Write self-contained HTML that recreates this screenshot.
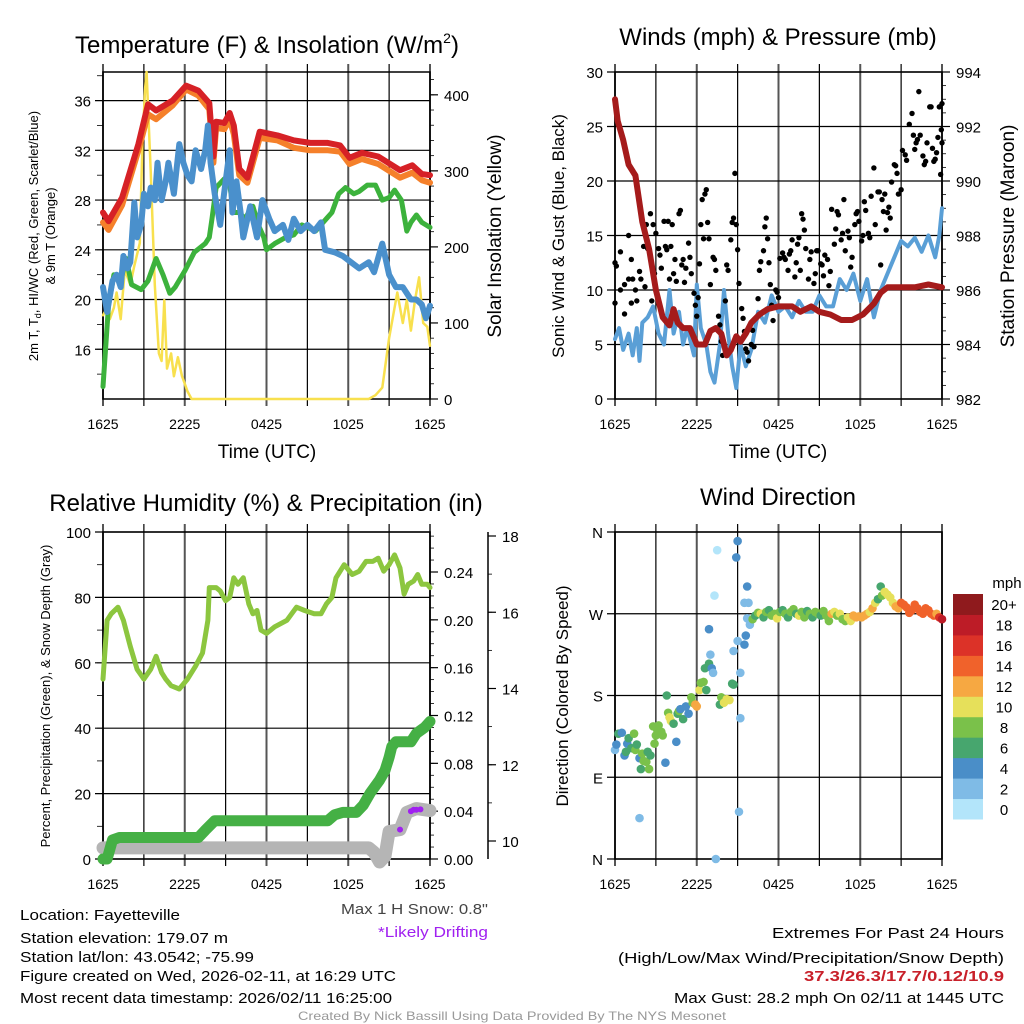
<!DOCTYPE html>
<html><head><meta charset="utf-8"><style>
html,body{margin:0;padding:0;background:#fff;}
svg{display:block;font-family:"Liberation Sans",sans-serif;}
</style></head><body>
<svg id="fig" width="1024" height="1024" viewBox="0 0 1024 1024" xmlns="http://www.w3.org/2000/svg">
<g id="titles">
<text x="267" y="53" font-size="24" text-anchor="middle">Temperature (F) &amp; Insolation (W/m<tspan font-size="14" dy="-10">2</tspan><tspan dy="10">)</tspan></text>
<text x="778" y="45" font-size="24" text-anchor="middle">Winds (mph) &amp; Pressure (mb)</text>
<text x="266" y="511" font-size="24" text-anchor="middle">Relative Humidity (%) &amp; Precipitation (in)</text>
<text x="778" y="505" font-size="24" text-anchor="middle">Wind Direction</text>
<text x="267" y="458" font-size="19" text-anchor="middle">Time (UTC)</text>
<text x="778" y="458" font-size="19" text-anchor="middle">Time (UTC)</text>
<text transform="translate(38,236) rotate(-90)" font-size="13" text-anchor="middle">2m T, T<tspan font-size="9" dy="3">d</tspan><tspan dy="-3">, HI/WC (Red, Green, Scarlet/Blue)</tspan></text>
<text transform="translate(55,236) rotate(-90)" font-size="13" text-anchor="middle">&amp; 9m T (Orange)</text>
<text transform="translate(501,236) rotate(-90)" font-size="19" text-anchor="middle">Solar Insolation (Yellow)</text>
<text transform="translate(564,236) rotate(-90)" font-size="17" text-anchor="middle">Sonic Wind &amp; Gust (Blue, Black)</text>
<text transform="translate(1014,236) rotate(-90)" font-size="19" text-anchor="middle">Station Pressure (Maroon)</text>
<text transform="translate(50,696) rotate(-90)" font-size="13" text-anchor="middle">Percent, Precipitation (Green), &amp; Snow Depth (Gray)</text>
<text transform="translate(568,696) rotate(-90)" font-size="17" text-anchor="middle">Direction (Colored By Speed)</text>
</g>
<g id="plots"></g>
<g id="footer" font-family="'Liberation Sans Narrow','Liberation Sans',sans-serif" font-size="15">
<text x="20" y="920" textLength="160" lengthAdjust="spacingAndGlyphs">Location: Fayetteville</text>
<text x="20" y="943" textLength="208" lengthAdjust="spacingAndGlyphs">Station elevation: 179.07 m</text>
<text x="20" y="962" textLength="234" lengthAdjust="spacingAndGlyphs">Station lat/lon: 43.0542; -75.99</text>
<text x="20" y="981" textLength="376" lengthAdjust="spacingAndGlyphs">Figure created on Wed, 2026-02-11, at 16:29 UTC</text>
<text x="20" y="1003" textLength="372" lengthAdjust="spacingAndGlyphs">Most recent data timestamp: 2026/02/11 16:25:00</text>
<text x="488" y="914" text-anchor="end" fill="#444" textLength="147" lengthAdjust="spacingAndGlyphs">Max 1 H Snow: 0.8"</text>
<text x="488" y="937" text-anchor="end" fill="#a020f0" textLength="110" lengthAdjust="spacingAndGlyphs">*Likely Drifting</text>
<text x="1004" y="938" text-anchor="end" textLength="232" lengthAdjust="spacingAndGlyphs">Extremes For Past 24 Hours</text>
<text x="1004" y="963" text-anchor="end" textLength="386" lengthAdjust="spacingAndGlyphs">(High/Low/Max Wind/Precipitation/Snow Depth)</text>
<text x="1004" y="981" text-anchor="end" fill="#c8202a" font-weight="bold" textLength="200" lengthAdjust="spacingAndGlyphs">37.3/26.3/17.7/0.12/10.9</text>
<text x="1004" y="1003" text-anchor="end" textLength="330" lengthAdjust="spacingAndGlyphs">Max Gust: 28.2 mph On 02/11 at 1445 UTC</text>
<text x="512" y="1020" text-anchor="middle" fill="#999" font-size="12" textLength="428" lengthAdjust="spacingAndGlyphs">Created By Nick Bassill Using Data Provided By The NYS Mesonet</text>
</g>
</svg>
<script>
// ---- data (hours since 1625 UTC) ----
const timeTickLabels = ["1625","2225","0425","1025","1625"];
const tempTicks = [16,20,24,28,32,36];
const solarTicks = [0,100,200,300,400];
const windTicks = [0,5,10,15,20,25,30];
const presTicks = [982,984,986,988,990,992,994];
const rhTicks = [0,20,40,60,80,100];
const precipTicks = ["0.00","0.04","0.08","0.12","0.16","0.20","0.24"];
const snowTicks = [10,12,14,16,18];
const dirLabels = ["N","E","S","W","N"];
const speedLabels = ["0","2","4","6","8","10","12","14","16","18","20+"];

const redT = [[0,27],[0.4,26.3],[1.4,28.2],[2.6,32.5],[3.3,35.7],[3.9,35.2],[5.1,36],[6.1,37.2],[7,36.8],[7.8,35.8],[8.1,31.5],[8.3,34.3],[8.9,34.2],[9.3,35],[9.6,34],[10,30.5],[10.6,29.8],[11.5,33.5],[12.8,33.2],[14,32.8],[15.2,32.6],[16.5,32.6],[17.4,32.4],[18.1,31.4],[19,31.8],[20.2,31.5],[21.8,30.4],[22.7,30.8],[23.4,30.1],[24,30]];
const orangeT = [[0,26.2],[0.4,25.6],[1.4,27.6],[2.6,32],[3.3,34.9],[3.9,34.5],[5.1,35.6],[6.1,36.9],[7,36.4],[7.8,35.3],[8.1,31],[8.3,33.8],[8.9,33.7],[9.3,34.5],[9.6,33.3],[10,30],[10.6,29.4],[11.5,33],[12.8,32.8],[14,32.2],[15.2,32],[16.5,32],[17.4,31.9],[18.1,30.9],[19,31.3],[20.2,30.9],[21.8,29.8],[22.7,30.2],[23.4,29.6],[24,29.4]];
const blueT = [[0,21],[0.3,19],[0.7,21.5],[1,22],[1.3,21],[1.5,23.5],[1.8,22.5],[2,23],[2.3,27.8],[2.5,25],[2.8,26],[3,28.5],[3.3,27.5],[3.5,29],[3.8,28],[4,31],[4.3,28],[4.6,29.5],[4.8,31],[5.2,28.5],[5.6,32.5],[5.9,31],[6.2,30],[6.5,29.5],[6.8,32],[7.2,30.5],[7.5,32],[7.7,34],[7.9,31],[8.2,28.5],[8.6,26],[9,29.5],[9.3,32],[9.5,27],[9.8,29.5],[10.1,27],[10.3,25],[10.8,27.5],[11.3,25],[11.7,28],[12.2,26.5],[12.6,25.5],[13.2,26],[13.6,24.8],[14,26.5],[14.5,25.5],[15,26],[15.5,25.5],[16,26.2],[16.3,24],[17,23.8],[17.6,23.5],[18.2,23],[18.8,22.5],[19.5,23],[19.9,22.2],[20.5,24.5],[21,22],[21.5,21],[22,21],[22.6,20],[23,20],[23.4,19.6],[23.7,18.5],[24,19.5]];
const greenT = [[0,13],[0.4,19.5],[0.8,22],[1.3,21.5],[1.7,23.3],[2.1,21.2],[2.8,20.8],[3.3,21.5],[3.9,23.3],[4.4,22],[4.9,20.5],[5.3,21],[6,22.3],[6.7,23.8],[7.5,24.5],[7.8,25],[8,26.5],[8.3,29],[8.9,29.7],[9.3,29.2],[9.6,27],[10,27],[10.4,26.5],[11,27.5],[11.4,26],[11.8,25],[12,24],[12.6,24.5],[13.4,25],[14,25.2],[14.6,26],[15.6,25.5],[16.4,26.5],[16.8,27],[17.3,28.5],[17.8,29],[18.4,28.5],[18.8,28.7],[19.4,29.2],[20,29.2],[20.5,28],[21,28.2],[21.4,28.8],[21.9,28],[22.3,25.5],[22.6,26.2],[23,26.8],[23.4,26.2],[24,25.8]];
const solar = [[0,110],[0.3,120],[0.5,105],[0.8,120],[1,140],[1.3,105],[1.6,170],[2,150],[2.3,175],[2.7,205],[2.9,340],[3.1,410],[3.2,430],[3.5,300],[3.8,150],[4.1,60],[4.3,50],[4.5,130],[4.7,40],[5,60],[5.2,30],[5.5,55],[5.8,30],[6,20],[6.2,10],[6.5,0],[12,0],[19.5,0],[20,5],[20.5,15],[21,80],[21.3,110],[21.6,140],[22,100],[22.3,130],[22.6,90],[22.9,130],[23.2,160],[23.5,100],[23.8,95],[24,70]];

const pressure = [[0,993],[0.2,992.2],[0.6,991.5],[1,990.6],[1.5,990.2],[2,988.5],[2.5,987.5],[3,986],[3.5,985],[4,984.7],[4.3,985.3],[4.6,984.8],[5,984.6],[5.5,984.6],[6,984],[6.6,984],[7,984.5],[7.4,984.6],[7.8,984.4],[8.2,983.6],[8.5,983.8],[8.9,984.3],[9.2,984.1],[9.6,984.4],[10,984.8],[10.6,985.1],[11.2,985.3],[12,985.4],[13,985.4],[13.6,985.2],[14.4,985.4],[15,985.2],[15.8,985.1],[16.6,984.9],[17.4,984.9],[18.2,985.1],[19,985.5],[19.5,985.9],[20,986.1],[21,986.1],[22,986.1],[23,986.2],[24,986.1]];
const windSpd = [[0,5.5],[0.3,6.5],[0.6,4.5],[1,6],[1.3,4],[1.6,6.5],[1.8,3.5],[2,7],[2.4,7.5],[2.8,8.5],[3.2,6],[3.6,5],[4,10],[4.3,6],[4.7,8],[5,5],[5.3,6.5],[5.8,4],[6,10.5],[6.3,6.5],[6.7,5],[7,2.5],[7.3,1.5],[7.7,5],[8,10],[8.3,6],[8.6,3],[8.9,1],[9.2,5],[9.6,3],[10,4.5],[10.5,8],[11,7],[11.5,9.5],[12,8],[12.5,8.5],[13,7.5],[13.5,9],[14,8],[14.5,8],[15,9.5],[15.5,8.5],[16,8.5],[16.5,11],[17,10],[17.5,11.5],[18,9],[18.5,11],[19,7.5],[19.5,10],[20,11.5],[20.5,13],[21,14.5],[21.5,14],[22,14.8],[22.5,13.5],[23,15],[23.5,13],[23.8,15],[24,17.5]];
const gusts = [[0,8.8],[0,12.5],[0.1,12.2],[0.4,10],[0.4,13.5],[0.7,10.5],[0.7,7.8],[1,11],[1,15],[1.2,12.8],[1.2,8.8],[1.3,11],[1.5,10],[1.6,9],[1.8,11.7],[1.9,11],[2.1,14],[2.2,10.3],[2.3,16],[2.4,13.8],[2.6,17],[2.7,9],[2.8,16],[2.9,11.5],[3,15.2],[3.2,13.8],[3.3,13.2],[3.4,12],[3.6,16.3],[3.7,14],[3.8,13.7],[3.9,16.3],[4,11],[4.1,14],[4.2,16],[4.3,11.5],[4.4,12.8],[4.5,10.8],[4.7,17],[4.8,17.3],[4.9,12.3],[5,12.8],[5.1,10.7],[5.2,12],[5.4,14.3],[5.5,13],[5.6,11.5],[5.8,9.7],[5.9,8.6],[6,7.6],[6.1,9.3],[6.2,12.4],[6.3,16],[6.4,18.3],[6.5,14.7],[6.6,18.8],[6.7,19.2],[6.8,16.2],[6.9,14.7],[7,10.5],[7.2,13],[7.3,12.8],[7.4,11.8],[7.6,7.6],[7.7,6.8],[7.8,5.3],[7.9,4],[8.1,9],[8.2,12.3],[8.3,11.8],[8.5,14.6],[8.6,16.2],[8.7,16.6],[8.8,20.7],[8.9,16],[9,13.7],[9.1,10.6],[9.3,8.3],[9.4,7.4],[9.5,6.2],[9.6,4.6],[9.7,4.3],[9.8,3.5],[10,5],[10.1,6.3],[10.2,4.8],[10.5,9.2],[10.6,11.8],[10.7,12.6],[10.9,13.6],[11,15.8],[11.1,16.6],[11.2,14.7],[11.3,12.5],[11.4,10.5],[11.5,8.6],[11.6,7.2],[11.8,10],[11.9,9.8],[12,9.3],[12.1,12.9],[12.3,13.4],[12.4,13],[12.5,12.8],[12.7,11.8],[12.8,13.3],[12.9,13.6],[13,14.6],[13.2,11.2],[13.3,12.5],[13.4,14.2],[13.5,14.8],[13.6,11.8],[13.7,17],[13.8,16.5],[13.9,15.5],[14,13.8],[14.2,11],[14.3,12.8],[14.4,13.5],[14.6,10.6],[14.7,11.5],[14.8,13.6],[14.9,13.6],[15.1,12.4],[15.2,12.3],[15.3,11.3],[15.4,13.2],[15.6,12.8],[15.7,10.4],[15.8,11.7],[15.9,17.4],[16.1,14.2],[16.2,15.6],[16.3,17.2],[16.4,16.9],[16.6,14.6],[16.7,15.2],[16.8,18.3],[16.9,13.6],[17.1,15.4],[17.2,14.8],[17.3,12.1],[17.4,13],[17.6,16],[17.7,17],[17.8,17.2],[17.9,16.3],[18.1,14.5],[18.2,15],[18.3,18.1],[18.4,17.3],[18.6,15.2],[18.7,14.8],[18.8,18.6],[19,21.2],[19.1,16],[19.3,19],[19.4,19],[19.5,12.3],[19.6,18.3],[19.7,17.2],[19.8,18.8],[19.9,15.5],[20,17.1],[20.1,17.6],[20.2,16.6],[20.3,19.9],[20.5,21.5],[20.6,21.4],[20.7,20.7],[20.8,18.8],[21,19.2],[21.1,22.8],[21.3,22.4],[21.4,21.9],[21.6,25.2],[21.8,26.2],[21.9,24.2],[22,22.9],[22.1,23.5],[22.2,23.8],[22.3,28.2],[22.4,24.2],[22.6,22.3],[22.7,21.5],[22.8,21.8],[22.9,23.5],[23.1,26.8],[23.2,26.8],[23.3,23],[23.4,21.8],[23.5,22],[23.6,22.6],[23.7,24],[23.8,26.8],[23.9,20.6],[24,27.1],[24,23.5],[23.95,24.7]];

const rh = [[0,55],[0.3,73],[0.6,75],[1.1,77],[1.5,73],[2,65],[2.5,58],[3,55],[3.5,58],[3.9,62],[4.3,57],[4.6,55],[5,53],[5.6,52],[6.2,55],[6.8,59],[7.3,63],[7.7,73],[7.8,83],[8.3,83],[8.6,82],[9,79],[9.3,80],[9.6,86],[9.9,84],[10.3,86],[10.7,78],[11,75],[11.3,76],[11.6,70],[12,69],[12.6,71],[13.5,73],[14.2,77],[14.8,76],[15.5,75],[16,75],[16.4,78],[16.8,80],[17.1,86],[17.7,90],[18.3,87],[18.8,88],[19.3,91],[19.8,91],[20.2,92],[20.6,88],[21,90],[21.4,93],[21.8,89],[22.1,81],[22.4,84],[22.8,85],[23.1,87],[23.4,84],[23.8,84],[24,83]];
const precip = [[0,0],[0.3,0],[0.7,0.016],[1.2,0.018],[7,0.018],[7.5,0.024],[8.2,0.032],[16.5,0.032],[17,0.037],[17.6,0.039],[18.6,0.039],[19.1,0.045],[19.6,0.055],[20.3,0.066],[20.7,0.074],[21,0.085],[21.2,0.094],[21.5,0.098],[22.6,0.098],[23,0.105],[23.6,0.11],[24,0.115]];
const snow = [[0,9.82],[19.5,9.82],[19.9,9.7],[20.3,9.45],[20.7,9.6],[21,10.25],[21.8,10.3],[22.3,10.75],[23,10.85],[24,10.8]];
const drift = [[21.8,10.3],[22.6,10.78],[22.8,10.82],[23.0,10.82],[23.3,10.83]];

// [hour, direction deg, speed mph]
const windDir = [[0,120,2],[0.1,126,4],[0.25,138,6],[0.5,139,4],[0.7,114,4],[0.8,118,6],[0.9,127,4],[1.0,133,6],[1.2,122,6],[1.4,138,8],[1.5,120,8],[1.6,126,6],[1.8,111,4],[1.9,99,6],[1.8,45,2],[2.0,116,8],[2.1,108,8],[2.3,107,8],[2.4,118,6],[2.5,99,8],[2.6,114,6],[2.8,146,8],[2.9,127,8],[3.0,136,8],[3.1,142,8],[3.2,147,8],[3.4,140,8],[3.5,136,8],[3.7,106,4],[3.8,180,6],[3.9,161,8],[4.0,156,10],[4.1,152,10],[4.3,149,6],[4.5,129,4],[4.6,160,6],[4.7,163,8],[4.8,165,4],[5.0,154,6],[5.2,168,4],[5.4,160,4],[5.6,178,8],[5.7,172,8],[5.9,170,12],[6.0,168,12],[6.2,186,10],[6.3,194,8],[6.5,195,8],[6.6,210,6],[6.7,186,6],[6.9,215,6],[7.0,225,2],[6.9,253,4],[7.1,210,4],[7.2,205,2],[7.3,290,0],[7.5,340,0],[7.4,0,2],[7.7,170,6],[7.8,178,8],[8.0,172,10],[8.2,176,10],[8.4,175,10],[8.6,193,6],[8.7,192,6],[8.7,229,2],[8.9,332,4],[9.0,350,4],[9.0,240,2],[9.1,52,2],[9.2,155,2],[9.2,205,2],[9.5,236,4],[9.6,246,4],[9.5,282,2],[9.7,300,4],[9.8,282,2],[9.7,265,2],[9.9,258,2],[10.1,264,8],[10.3,268,6],[10.5,271,8],[10.7,270,10],[10.9,266,6],[11.1,272,8],[11.3,274,6],[11.5,268,8],[11.7,270,8],[11.9,265,10],[12.1,272,8],[12.3,274,6],[12.5,270,8],[12.7,266,6],[12.9,272,8],[13.1,275,8],[13.3,270,6],[13.5,268,10],[13.7,272,8],[13.9,266,8],[14.1,273,6],[14.3,270,8],[14.5,266,6],[14.7,272,8],[14.9,270,8],[15.1,268,6],[15.3,273,8],[15.5,268,8],[15.7,262,8],[15.9,270,12],[16.1,272,10],[16.3,268,8],[16.5,270,10],[16.7,264,8],[16.9,262,8],[17.1,266,10],[17.3,262,10],[17.5,268,12],[17.7,266,12],[17.9,267,12],[18.1,266,12],[18.3,268,12],[18.5,270,12],[18.7,272,10],[18.9,276,12],[19.1,282,10],[19.3,286,6],[19.5,300,6],[19.6,290,8],[19.8,294,10],[20.0,291,10],[20.2,288,10],[20.4,282,10],[20.6,278,12],[20.8,276,12],[21.0,282,14],[21.2,280,14],[21.4,277,14],[21.6,271,14],[21.8,274,14],[22.0,280,14],[22.2,276,14],[22.4,272,14],[22.6,270,14],[22.8,276,14],[23.0,274,14],[23.2,270,14],[23.4,268,14],[23.6,270,12],[23.8,266,16],[24,264,18]];

const speedColors = ["#b3e5fa","#7fbbe6","#4a8ec8","#47a66e","#7ac14a","#e6e05a","#f6a842","#f0622b","#dc3228","#bd1c27","#8f1a1d"];

// ---- drawing ----
const NS = "http://www.w3.org/2000/svg";
const root = document.getElementById('plots');
function mk(tag, attrs, parent){ const e=document.createElementNS(NS,tag); for(const k in attrs) e.setAttribute(k,attrs[k]); (parent||root).appendChild(e); return e; }
function scale(d0,d1,r0,r1){ return v => r0 + (v-d0)*(r1-r0)/(d1-d0); }
function pathFrom(arr, fx, fy){ return arr.map((p,i)=>(i?'L':'M')+fx(p[0]).toFixed(1)+' '+fy(p[1]).toFixed(1)).join(''); }

function frame(g, x0, x1, y0, y1, hTicks, fy, leftLabels){
  for(let i=0;i<=8;i++){
    const x = x0 + i*(x1-x0)/8;
    const l = mk('line',{x1:x,x2:x,y1:y0-8,y2:y1+7,stroke: (i%2? '#000':'#555'),'stroke-width': (i%2?1.2:2)},g);
    
    
  }
  hTicks.forEach((v,i)=>{
    const y = fy(v);
    const l = mk('line',{x1:x0-8,x2:x1,y1:y,y2:y,stroke:'#000','stroke-width':1.2},g);
    
    
    const t = mk('text',{x:x0-12,y:y+6,'font-size':15,'text-anchor':'end'},g);
    t.textContent = leftLabels ? leftLabels[i] : v;
    
    
  });
  const b = mk('rect',{x:x0,y:y0,width:x1-x0,height:y1-y0,fill:'none',stroke:'#000','stroke-width':1.5},g);
  
  
  timeTickLabels.forEach((s,i)=>{
    const t = mk('text',{x:x0+i*(x1-x0)/4,y:y1+30,'font-size':14,'text-anchor':'middle'},g);
    t.textContent = s;
    
    
  });
}
function rightAxis(g, x, ticks, fy, labels, minorStep, d0, d1, lx){
  ticks.forEach((v,i)=>{
    const y = fy(v);
    mk('line',{x1:x,x2:x+8,y1:y,y2:y,stroke:'#000','stroke-width':1.2},g);
    const t = mk('text',{x:lx||x+14,y:y+6,'font-size':15},g);
    t.textContent = labels? labels[i] : v;
    
    
  });
  for(let v=d0; v<=d1+1e-9; v+=minorStep){
    const y=fy(v); mk('line',{x1:x,x2:x+4,y1:y,y2:y,stroke:'#000','stroke-width':0.8},g);
  }
}
function line(g, arr, fx, fy, color, w, name){
  const p = mk('path',{d:pathFrom(arr,fx,fy),fill:'none',stroke:color,'stroke-width':w,'stroke-linejoin':'round','stroke-linecap':'round'},g);
  
  
}

(function(){
  const g = mk('g',{});  
  const fx = scale(0,24,103,430), fy = scale(12,38.3,399,72), fs = scale(0,430,399,72);
  frame(g,103,430,72,399,tempTicks,fy);
  for(let v=14; v<=38; v+=2){ const y=fy(v); mk('line',{x1:97,x2:103,y1:y,y2:y,stroke:'#000','stroke-width':0.8},g); }
  rightAxis(g,430,solarTicks,fs,null,20,0,420);
  line(g,solar,fx,fs,'#f8e04e',2.5,'solar-insolation-line');
  line(g,greenT,fx,fy,'#3cb23c',5,'dewpoint-line');
  line(g,orangeT,fx,fy,'#f5802a',6,'9m-temperature-line');
  line(g,redT,fx,fy,'#d62126',6,'2m-temperature-line');
  line(g,blueT,fx,fy,'#4a90cc',6,'wind-chill-line');
})();

(function(){
  const g = mk('g',{});  
  const fx = scale(0,24,615,942), fy = scale(0,30,399,72), fp = scale(982,994,399,72);
  frame(g,615,942,72,399,windTicks,fy);
  rightAxis(g,942,presTicks,fp,null,0.5,982,994);
  line(g,windSpd,fx,fy,'#5a9fd6',4,'sustained-wind-line');
  gusts.forEach(p=>{
    const c = mk('circle',{cx:fx(p[0]),cy:fy(p[1]),r:2.7,fill:'#000'},g);
    
    
  });
  line(g,pressure,fx,fp,'#a51b1b',6,'pressure-line');
})();

(function(){
  const g = mk('g',{});  
  const fx = scale(0,24,103,430), fy = scale(0,100,859,532), fpr = scale(0,0.24,859,572), fsn = scale(10,18,841,536);
  frame(g,103,430,532,859,rhTicks,fy);
  for(let v=10; v<=100; v+=10){ const y=fy(v); mk('line',{x1:97,x2:103,y1:y,y2:y,stroke:'#000','stroke-width':0.8},g); }
  rightAxis(g,430,precipTicks.map(Number),fpr,precipTicks,0.01,0,0.27);
  mk('line',{x1:488,x2:488,y1:532,y2:859,stroke:'#000','stroke-width':1.5},g);
  rightAxis(g,488,snowTicks,fsn,null,1,10,18,502);
  line(g,snow,fx,fsn,'#b5b5b5',13,'snow-depth-line');
  line(g,precip,fx,fpr,'#45b045',11,'precipitation-line');
  line(g,rh,fx,fy,'#8cc63f',5,'relative-humidity-line');
  drift.forEach(p=>{
    const c = mk('circle',{cx:fx(p[0]),cy:fsn(p[1]),r:3,fill:'#a020f0'},g);
    
    
  });
})();

(function(){
  const g = mk('g',{});  
  const fx = scale(0,24,615,942), fy = scale(0,360,859,532);
  frame(g,615,942,532,859,[0,90,180,270,360],fy,dirLabels);
  windDir.forEach(p=>{
    const c = mk('circle',{cx:fx(p[0]),cy:fy(p[1]),r:4.3,fill:speedColors[Math.min(10,Math.round(p[2]/2))]},g);
    
    
  });
  const cb = mk('g',{},g);  
  const h = (819-594)/11;
  speedColors.forEach((col,i)=>{
    const y = 819 - (i+1)*h;
    const r = mk('rect',{x:953,y:y,width:30,height:h+0.5,fill:col},cb);
    
    
    const t = mk('text',{x:1004,y:y+h/2+6,'font-size':15,'text-anchor':'middle'},cb);
    t.textContent = speedLabels[i];
    
    
  });
  const u = mk('text',{x:1007,y:588,'font-size':15,'text-anchor':'middle'},cb);
  u.textContent='mph';
  
  
})();
</script>
</body></html>
